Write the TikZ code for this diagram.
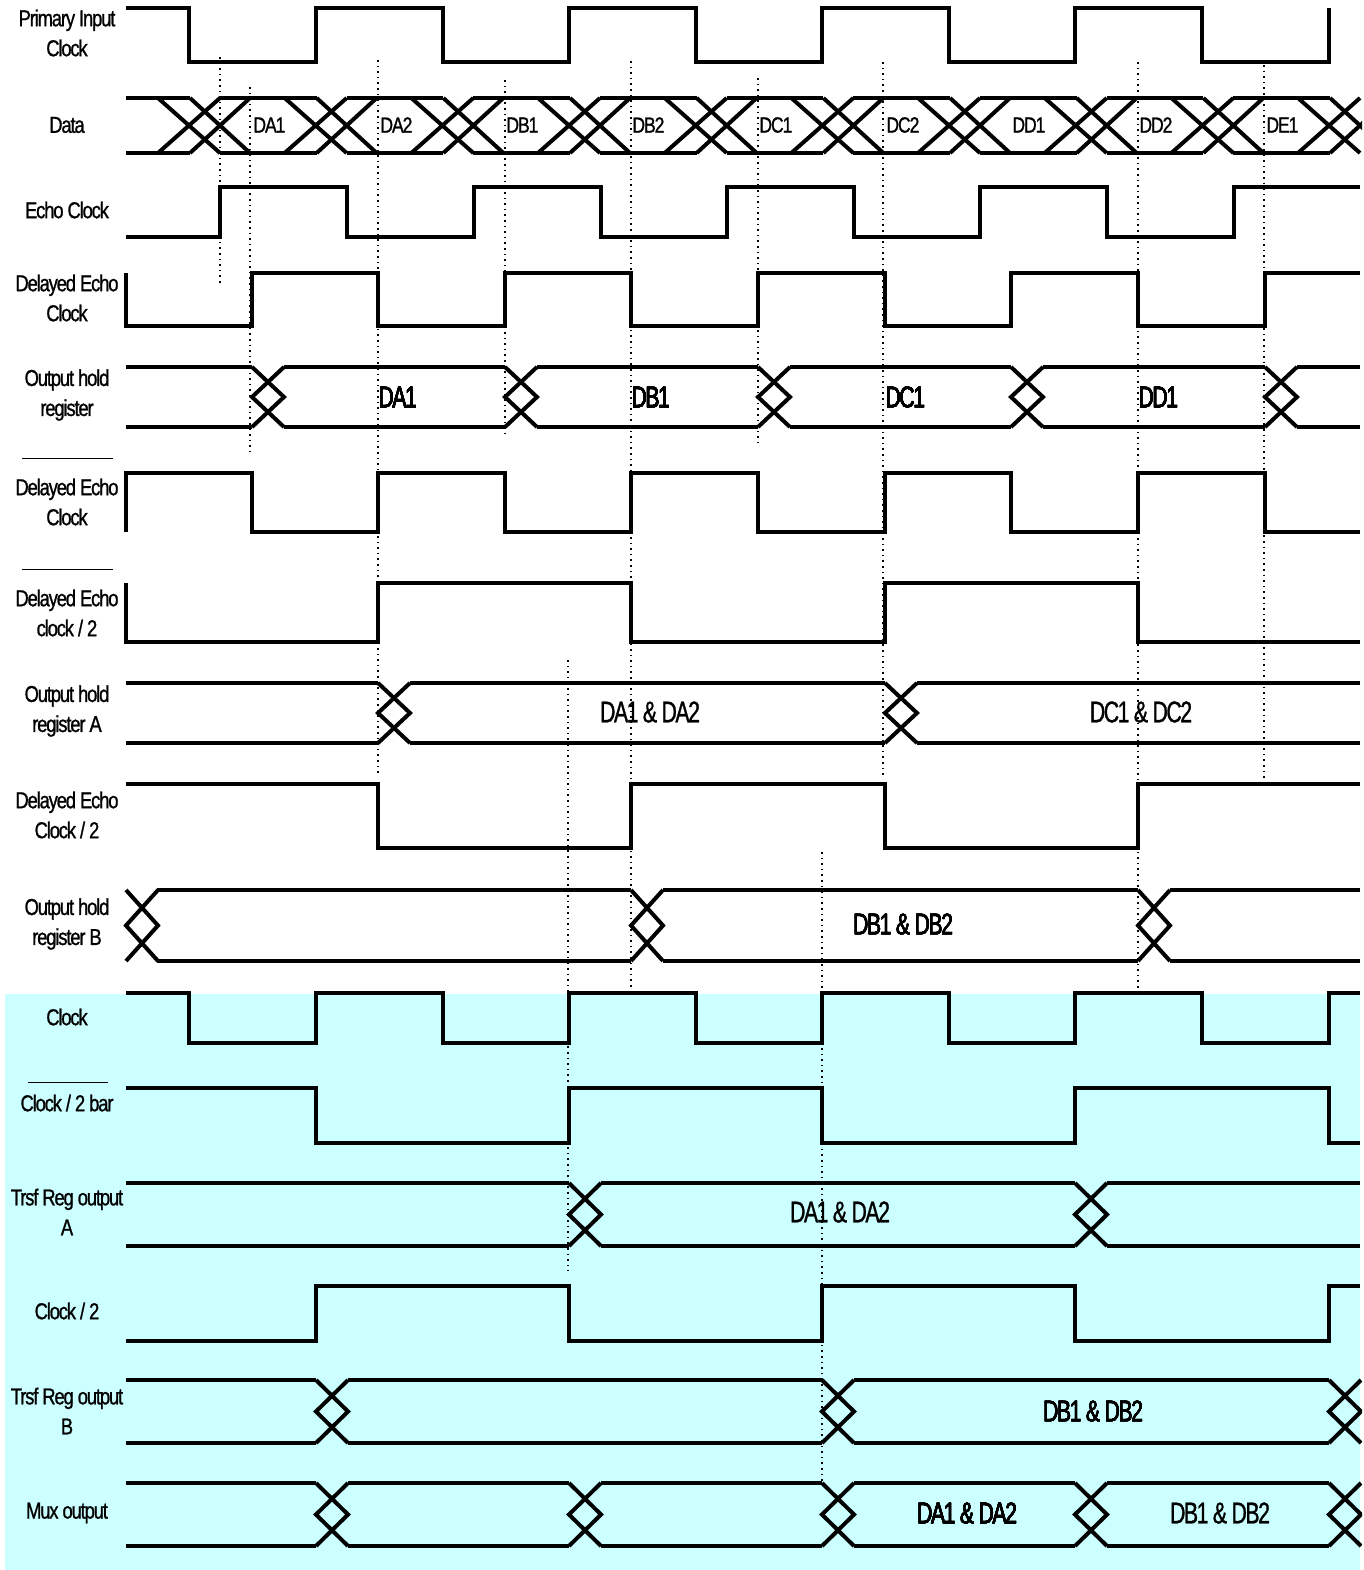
\documentclass[tikz,border=0pt]{standalone}
\usepackage{fontspec}
\usetikzlibrary{calc}
\newfontfamily\sigfont[FakeStretch=0.8, LetterSpace=-5, FakeBold=1]{Liberation Sans}
\newfontfamily\busfont[FakeStretch=0.71, LetterSpace=-5, FakeBold=1]{Liberation Sans}
\definecolor{cyanbg}{HTML}{CCFFFF}
\tikzset{
  sig/.style={line width=2pt, line join=miter},
  guide/.style={line width=0.8pt, dotted},
  bar/.style={line width=0.5pt},
  signame/.style={font=\sigfont\fontsize{11.5}{15}\selectfont, align=center, inner sep=0pt},
  busval/.style={font=\busfont\fontsize{15}{18}\selectfont, inner sep=0pt},
  dataval/.style={font=\sigfont\fontsize{11}{13}\selectfont, inner sep=0pt, anchor=west},
}
% bus transition of width 32 at x=#1, between top #2 and bottom #3
\newcommand{\xing}[3]{%
  \draw[sig] (#1,#2) -- ({#1+32},{(#2+#3)/2}) -- (#1,#3);
  \draw[sig] ({#1+32},#2) -- (#1,{(#2+#3)/2}) -- ({#1+32},#3);
}
\begin{document}
\begin{tikzpicture}[x=0.5pt, y=-0.5pt]
    \useasboundingbox (0,0) rectangle (1364,1570);

    % Background of the transfer part
    \fill[cyanbg] (5,994) rectangle (1360,1570);

    % Signal names
    \node[signame] (picname)   at (67,33)   {Primary Input\\Clock};
    \node[signame] (dataname)  at (67,125)  {Data};
    \node[signame] (echoname)  at (67,210)  {Echo Clock};
    \node[signame] (decname)   at (67,298)  {Delayed Echo\\Clock};
    \node[signame] (ohrname)   at (67,395)  {Output hold\\register};
    \node[signame] (ndecname)  at (67,502)  {Delayed Echo\\Clock};
    \node[signame] (ndectwo)   at (67,613)  {Delayed Echo\\clock / 2};
    \node[signame] (ohraname)  at (67,711)  {Output hold\\register A};
    \node[signame] (dectwo)    at (67,815)  {Delayed Echo\\Clock / 2};
    \node[signame] (ohrbname)  at (67,924)  {Output hold\\register B};
    \node[signame] (clkname)   at (67,1017) {Clock};
    \node[signame] (nclktwo)   at (67,1103) {Clock / 2 bar};
    \node[signame] (trsfaname) at (67,1212) {Trsf Reg output\\A};
    \node[signame] (clktwo)    at (67,1311) {Clock / 2};
    \node[signame] (trsfbname) at (67,1411) {Trsf Reg output\\B};
    \node[signame] (muxname)   at (67,1513) {Mux output};

    % Overbars of the inverted names
    \draw[bar] (22,458) -- (113,458);
    \draw[bar] (22,569) -- (113,569);
    \draw[bar] (28,1082) -- (108,1082);

    % Dotted guide lines
    \draw[guide] (220,57) -- (220,285);
    \draw[guide] (250,87) -- (250,452);
    \draw[guide] (378,60) -- (378,773);
    \draw[guide] (505,80) -- (505,438);
    \draw[guide] (631,61) -- (631,991);
    \draw[guide] (758,78) -- (758,443);
    \draw[guide] (883,62) -- (883,777);
    \draw[guide] (1138,62) -- (1138,989);
    \draw[guide] (1264,65) -- (1264,779);
    \draw[guide] (568,660) -- (568,1271);
    \draw[guide] (822,852) -- (822,1482);

    \begin{scope}
    \clip (0,0) rectangle (1362,1570);

    % Primary input clock
    \draw[sig] (126,8) -| (189,62) -| (316,8) -| (443,62) -| (569,8) -| (696,62)
      -| (822,8) -| (949,62) -| (1075,8) -| (1202,62) -| (1329,8);

    % Data with early and late crossings
    \draw[sig] (126,98) -- (190,98) (126,153) -- (190,153);
    \foreach \k in {0,...,9} {
      \pgfmathsetmacro\t{158+126.67*\k}
      \draw[sig] (\t,98) -- ({\t+62},153) (\t,153) -- ({\t+62},98);
      \draw[sig] ({\t+32},98) -- ({\t+92},153) ({\t+32},153) -- ({\t+92},98);
    }
    \foreach \k in {0,...,8} {
      \pgfmathsetmacro\t{158+126.67*\k}
      \draw[sig] ({\t+62},98) -- ({\t+158.67},98) ({\t+62},153) -- ({\t+158.67},153);
    }
    \foreach \x/\lbl in {253/DA1, 380/DA2, 506/DB1, 632/DB2, 759/DC1,
                         886/DC2, 1012/DD1, 1139/DD2, 1266/DE1}
      \node[dataval] (data\lbl) at (\x,125) {\lbl};

    % Echo clock
    \draw[sig] (126,237) -| (220,187) -| (347,237) -| (474,187) -| (601,237)
      -| (727,187) -| (854,237) -| (980,187) -| (1107,237) -| (1234,187) -- (1360,187);

    % Delayed echo clock
    \draw[sig] (126,273) -- (126,326) -| (252,273) -| (378,326) -| (505,273)
      -| (631,326) -| (758,273) -| (885,326) -| (1011,273) -| (1138,326)
      -| (1265,273) -- (1360,273);

    % Output hold register
    \foreach \a/\b in {126/252, 284/505, 537/758, 790/1011, 1043/1265, 1297/1360}
      \draw[sig] (\a,367) -- (\b,367) (\a,427) -- (\b,427);
    \foreach \x in {252,505,758,1011,1265}
      \xing{\x}{367}{427}
    \foreach \x/\lbl in {378/DA1, 631/DB1, 885/DC1, 1138/DD1}
      \node[busval, anchor=west] (ohr\lbl) at (\x,397) {\lbl};

    % Inverted delayed echo clock
    \draw[sig] (126,532) -- (126,473) -| (252,532) -| (378,473) -| (505,532)
      -| (631,473) -| (758,532) -| (885,473) -| (1011,532) -| (1138,473)
      -| (1265,532) -- (1360,532);

    % Inverted delayed echo clock / 2
    \draw[sig] (126,583) -- (126,642) -| (378,583) -| (631,642) -| (885,583)
      -| (1138,642) -- (1360,642);

    % Output hold register A
    \foreach \a/\b in {126/378, 410/885, 917/1360}
      \draw[sig] (\a,683) -- (\b,683) (\a,743) -- (\b,743);
    \xing{378}{683}{743}
    \xing{885}{683}{743}
    \node[busval] (ohraA) at (650,712) {DA1 \& DA2};
    \node[busval] (ohraC) at (1141,712) {DC1 \& DC2};

    % Delayed echo clock / 2
    \draw[sig] (126,784) -| (378,848) -| (631,784) -| (885,848) -| (1138,784) -- (1360,784);

    % Output hold register B
    \foreach \a/\b in {157/631, 663/1138, 1170/1360}
      \draw[sig] (\a,890) -- (\b,890) (\a,961) -- (\b,961);
    \foreach \x in {126,631,1138}
      \xing{\x}{890}{961}
    \node[busval] (ohrbB) at (903,924) {DB1 \& DB2};

    % Clock
    \draw[sig] (126,993) -| (189,1043) -| (316,993) -| (443,1043) -| (569,993)
      -| (696,1043) -| (822,993) -| (949,1043) -| (1075,993) -| (1202,1043)
      -| (1329,993) -- (1360,993);

    % Clock / 2 bar
    \draw[sig] (126,1088) -| (316,1143) -| (569,1088) -| (822,1143) -| (1075,1088)
      -| (1329,1143) -- (1360,1143);

    % Transfer register output A
    \foreach \a/\b in {126/569, 601/1075, 1107/1360}
      \draw[sig] (\a,1183) -- (\b,1183) (\a,1246) -- (\b,1246);
    \xing{569}{1183}{1246}
    \xing{1075}{1183}{1246}
    \node[busval] (trsfaA) at (840,1212) {DA1 \& DA2};

    % Clock / 2
    \draw[sig] (126,1341) -| (316,1286) -| (569,1341) -| (822,1286) -| (1075,1341)
      -| (1329,1286) -- (1360,1286);

    % Transfer register output B
    \foreach \a/\b in {126/316, 348/822, 854/1329}
      \draw[sig] (\a,1380) -- (\b,1380) (\a,1443) -- (\b,1443);
    \foreach \x in {316,822,1329}
      \xing{\x}{1380}{1443}
    \node[busval] (trsfbB) at (1093,1411) {DB1 \& DB2};

    % Mux output
    \foreach \a/\b in {126/316, 348/569, 601/822, 854/1075, 1107/1329}
      \draw[sig] (\a,1483) -- (\b,1483) (\a,1546) -- (\b,1546);
    \foreach \x in {316,569,822,1075,1329}
      \xing{\x}{1483}{1546}
    \node[busval] (muxA) at (967,1513) {DA1 \& DA2};
    \node[busval] (muxB) at (1220,1513) {DB1 \& DB2};
    \end{scope}
\end{tikzpicture}
\end{document}
